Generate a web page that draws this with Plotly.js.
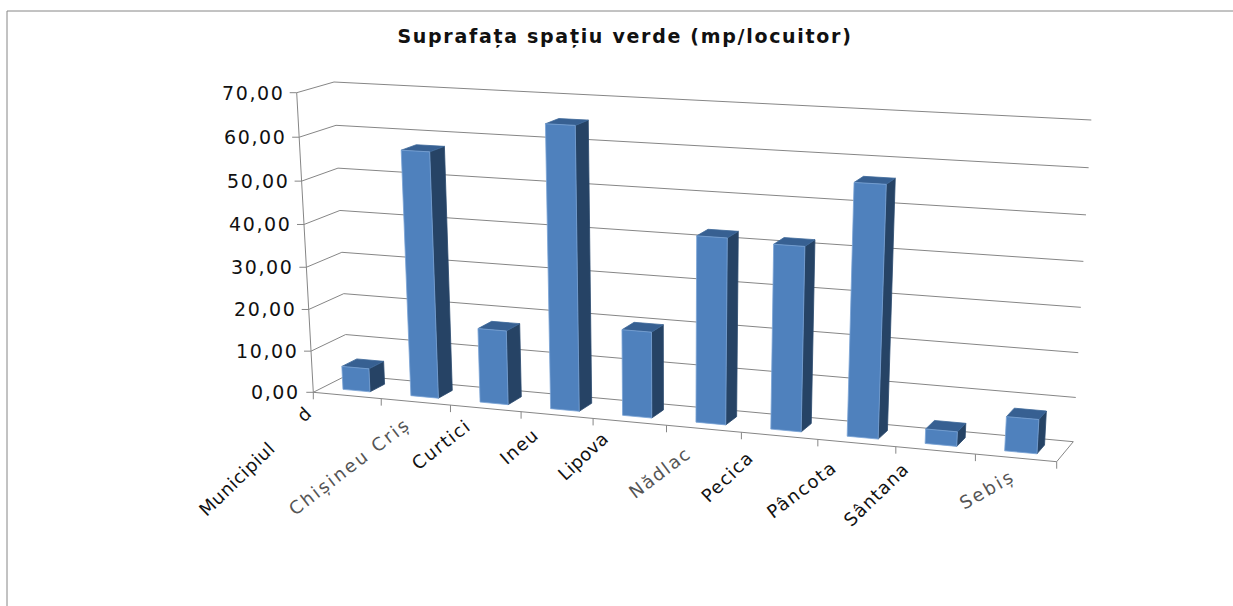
<!DOCTYPE html>
<html>
<head>
<meta charset="utf-8">
<script src="https://cdn.plot.ly/plotly-3.0.1.min.js"></script>
<style>
html,body{margin:0;padding:0;background:#fff;overflow:hidden}
#chart{width:1233px;height:606px}
.annotation-text{letter-spacing:1.6px}
.gtitle{letter-spacing:1.7px}
</style>
</head>
<body>
<div id="chart"></div>
<script>
// ---- data ----
const chartTitle = "Suprafața spațiu verde (mp/locuitor)";
const categories = ["Municipiul Arad","Chișineu Criș","Curtici","Ineu","Lipova","Nădlac","Pecica","Pâncota","Sântana","Sebiș"];
const values = [5.6, 57.5, 17.5, 65.2, 20, 42.5, 41.8, 56.3, 3.3, 7.7];
const valueTicks = [0,10,20,30,40,50,60,70];
const valueTickLabels = ["0,00","10,00","20,00","30,00","40,00","50,00","60,00","70,00"];

// ---- perspective frame of the 3-D box (screen corners) ----
const FRONT = [[313.3,392.3],[1056.7,461.7],[1077,132.7],[296.7,92.7]];
const BACK  = [[347.5,375],[1073.3,441.7],[1091.3,120],[334,82]];
const VMAX = 70;
function homography(q){
  const [p0,p1,p2,p3]=q;
  const dx1=p1[0]-p2[0],dx2=p3[0]-p2[0],dx3=p0[0]-p1[0]+p2[0]-p3[0];
  const dy1=p1[1]-p2[1],dy2=p3[1]-p2[1],dy3=p0[1]-p1[1]+p2[1]-p3[1];
  const den=dx1*dy2-dx2*dy1;
  const g=(dx3*dy2-dx2*dy3)/den,h=(dx1*dy3-dx3*dy1)/den;
  const a=p1[0]-p0[0]+g*p1[0],b=p3[0]-p0[0]+h*p3[0],c=p0[0];
  const d=p1[1]-p0[1]+g*p1[1],e=p3[1]-p0[1]+h*p3[1],f=p0[1];
  return (u,v)=>{const w=g*u+h*v+1;return [(a*u+b*v+c)/w,(d*u+e*v+f)/w];};
}
const hFront=homography(FRONT), hBack=homography(BACK);
function P(u,val,depth){
  const a=hFront(u,val/VMAX), b=hBack(u,val/VMAX);
  return [a[0]+(b[0]-a[0])*depth, a[1]+(b[1]-a[1])*depth];
}
function addPath(acc,pts,close){
  const list=close?pts.concat([pts[0]]):pts;
  list.forEach(p=>{acc.x.push(p[0]);acc.y.push(p[1]);});
  acc.x.push(null);acc.y.push(null);
}

// ---- frame lines ----
const grid={x:[],y:[]}, frame={x:[],y:[]};
valueTicks.forEach(t=>{
  if(t>0) addPath(grid,[P(0,t,0),P(0,t,1),P(1,t,1)]);
  const c=P(0,t,0);
  addPath(frame,[[c[0]-7,c[1]],c]);
});
addPath(frame,[P(0,0,0),P(0,VMAX,0)]);
addPath(grid,[P(0,0,0),P(0,0,1),P(1,0,1),P(1,0,0),P(0,0,0)]);
for(let k=0;k<=categories.length;k++){
  const c=P(k/categories.length,0,0);
  addPath(frame,[c,[c[0],c[1]+7]]);
}

// ---- bars ----
const SLOT0=0.30,SLOT1=0.70,D0=0.28,D1=0.72;
const fFront={x:[],y:[]},fSide={x:[],y:[]},fTop={x:[],y:[]};
values.forEach((val,i)=>{
  const n=categories.length,u0=(i+SLOT0)/n,u1=(i+SLOT1)/n;
  addPath(fSide,[P(u1,0,D0),P(u1,0,D1),P(u1,val,D1),P(u1,val,D0)],true);
  addPath(fTop,[P(u0,val,D0),P(u1,val,D0),P(u1,val,D1),P(u0,val,D1)],true);
  addPath(fFront,[P(u0,0,D0),P(u1,0,D0),P(u1,val,D0),P(u0,val,D0)],true);
});
const lineTrace=(t,c,w)=>({type:"scatter",mode:"lines",x:t.x,y:t.y,line:{color:c,width:w},hoverinfo:"skip",showlegend:false});
const faceTrace=(t,fill,edge,name)=>({type:"scatter",mode:"lines",name,x:t.x,y:t.y,fill:"toself",fillcolor:fill,line:{color:edge,width:0.8},hoverinfo:"skip",showlegend:false});

// ---- labels ----
const labelShift=[[-29,4],[1,9],[-8,4],[-12,6],[-15,4],[-6,11],[-19,8],[-13,11],[-20,5],[5,5]];
const labelSpacing=[0.6,2.3,1.5,1.2,0.2,1.7,1.2,1.5,1.1,2.4];
const labelAngle=[-44,-37.5,-38,-41,-43,-37,-44,-37,-44,-30];
const fadedLabels=[1,5,9];
const annotations=[];
valueTicks.forEach((t,i)=>{
  const c=P(0,t,0);
  annotations.push({x:c[0]-11,y:c[1],xref:"x",yref:"y",text:valueTickLabels[i],showarrow:false,xanchor:"right",yanchor:"middle",
    font:{family:"DejaVu Sans",size:19,color:"#111"}});
});
categories.forEach((c,i)=>{
  const m=P((i+0.5)/categories.length,0,0);
  const inner=i===0?"Municipiul <span style='color:#ffffff'>Ara</span>d":c;
  const text="<span style='letter-spacing:"+labelSpacing[i]+"px'>"+inner+"</span>";
  annotations.push({x:m[0]+labelShift[i][0],y:m[1]+labelShift[i][1],xref:"x",yref:"y",text,showarrow:false,textangle:labelAngle[i],
    xanchor:"right",yanchor:"top",font:{family:"DejaVu Sans",size:18,color:fadedLabels.includes(i)?"#555":"#111"}});
});

const traces=[lineTrace(grid,"#868686",1),lineTrace(frame,"#868686",1),
  faceTrace(fSide,"#264365","#2b4a6f"),faceTrace(fTop,"#376092","#3d6899"),faceTrace(fFront,"#4f81bd","#7aa3d6")];
const layout={
  width:1233,height:606,margin:{l:0,r:0,t:0,b:0},paper_bgcolor:"#fff",plot_bgcolor:"#fff",showlegend:false,
  title:{text:"<b>"+chartTitle+"</b>",x:625/1233,xanchor:"center",y:1-36/606,yref:"container",yanchor:"middle",
    font:{family:"DejaVu Sans",size:19,color:"#111"}},
  xaxis:{range:[0,1233],visible:false,fixedrange:true},
  yaxis:{range:[606,0],visible:false,fixedrange:true},
  annotations,
  shapes:[{type:"path",xref:"x",yref:"y",path:"M 7 606 L 7 11 L 1233 11",line:{color:"#868686",width:1}}]
};
Plotly.newPlot("chart",traces,layout,{staticPlot:true,displayModeBar:false});
</script>
</body>
</html>
